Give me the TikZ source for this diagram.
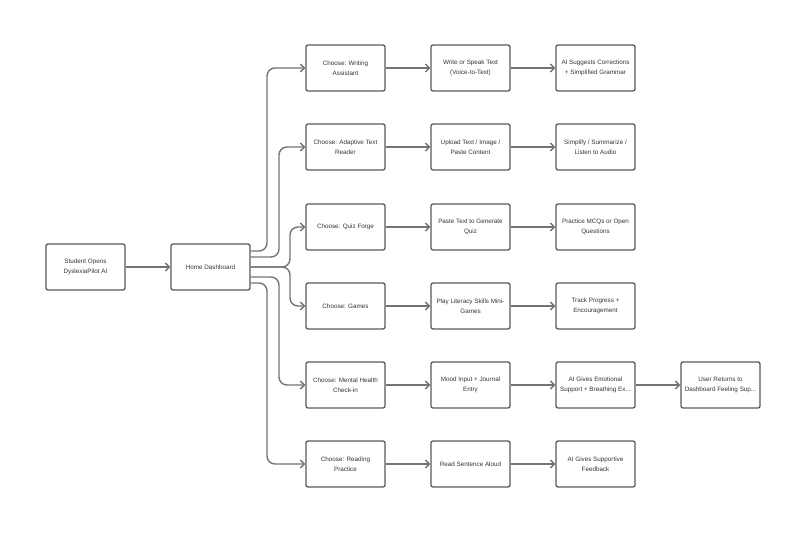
\documentclass[tikz,border=0pt]{standalone}
\usepackage{fontspec}
\setmainfont{Liberation Sans}
\usetikzlibrary{arrows.meta}
\begin{document}
\begin{tikzpicture}[x=1pt,y=-1pt,
  box/.style={draw=black!65,line width=1.3pt,rounded corners=2pt,minimum width=79pt,minimum height=46pt,align=center,font=\fontsize{6.3}{10}\selectfont,text=black!80,inner sep=1pt},
  arr/.style={draw=black!55,line width=1.4pt,-{Straight Barb[length=4pt,width=8pt]},rounded corners=8pt}]
\useasboundingbox (0,0) rectangle (806,534);
\node[box] (s) at (85.5,267) {Student Opens\\DyslexiaPilot AI};
\node[box] (h) at (210.5,267) {Home Dashboard};
\foreach \n/\y/\a/\b/\c in {
  1/68/{Choose: Writing\\Assistant}/{Write or Speak Text\\(Voice-to-Text)}/{AI Suggests Corrections\\+ Simplified Grammar},
  2/147/{Choose: Adaptive Text\\Reader}/{Upload Text / Image /\\Paste Content}/{Simplify / Summarize /\\Listen to Audio},
  3/227/{Choose: Quiz Forge}/{Paste Text to Generate\\Quiz}/{Practice MCQs or Open\\Questions},
  4/306/{Choose: Games}/{Play Literacy Skills Mini-\\Games}/{Track Progress +\\Encouragement},
  5/385/{Choose: Mental Health\\Check-in}/{Mood Input + Journal\\Entry}/{AI Gives Emotional\\Support + Breathing Ex...},
  6/464/{Choose: Reading\\Practice}/{Read Sentence Aloud}/{AI Gives Supportive\\Feedback}}{
  \node[box] (a\n) at (345.5,\y) {\a};
  \node[box] (b\n) at (470.5,\y) {\b};
  \node[box] (c\n) at (595.5,\y) {\c};
  \draw[arr] (a\n) -- (b\n);
  \draw[arr] (b\n) -- (c\n);
}
\node[box] (d5) at (720.5,385) {User Returns to\\Dashboard Feeling Sup...};
\draw[arr] (c5) -- (d5);
\draw[arr] (s) -- (h);
\draw[arr] ([yshift=16pt]h.east) -- (267,251) -- (267,68) -- (a1.west);
\draw[arr] ([yshift=10pt]h.east) -- (279,257) -- (279,147) -- (a2.west);
\draw[arr] (h.east) -- (290,267) -- (290,227) -- (a3.west);
\draw[arr] (h.east) -- (290,267) -- (290,306) -- (a4.west);
\draw[arr] ([yshift=-10pt]h.east) -- (279,277) -- (279,385) -- (a5.west);
\draw[arr] ([yshift=-16pt]h.east) -- (267,283) -- (267,464) -- (a6.west);
\end{tikzpicture}
\end{document}
